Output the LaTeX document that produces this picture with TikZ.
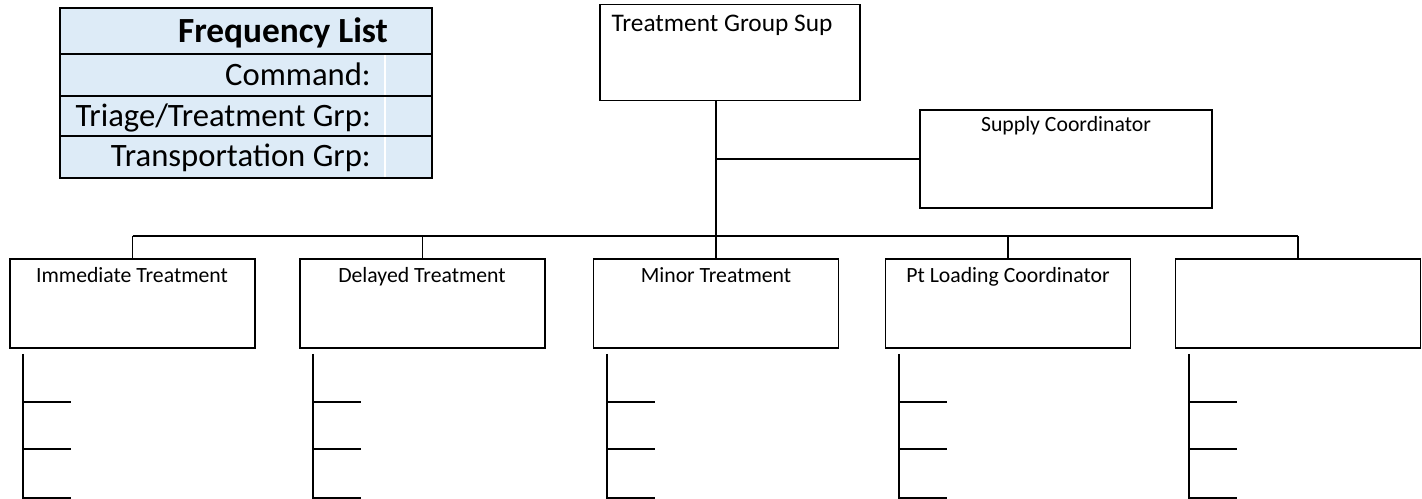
\documentclass[tikz,border=0pt]{standalone}
\usepackage{fontspec}
\setmainfont{Carlito}
\usetikzlibrary{calc}
\definecolor{tblue}{HTML}{DDEBF7}
\tikzset{
  box/.style={draw=black, line width=1.3pt, minimum width=183.75pt, minimum height=66.75pt, inner sep=0pt},
  topbox/.style={draw=black, line width=1.3pt, minimum width=195pt, minimum height=72pt, inner sep=0pt},
  supbox/.style={draw=black, line width=1.3pt, minimum width=219pt, minimum height=73.5pt, inner sep=0pt},
  lbl/.style={font=\fontsize{16.3}{18}\selectfont, inner sep=0pt, anchor=base},
  conn/.style={line width=1.3pt},
  tbl/.style={font=\fontsize{24.5}{27}\selectfont, inner sep=0pt, anchor=base east},
}
\begin{document}
\begin{tikzpicture}[x=0.75pt, y=-0.75pt]
\useasboundingbox (0,0) rectangle (1422,499);
% frequency table
\node[draw=black, line width=1.4pt, fill=tblue, minimum width=279pt, minimum height=127.5pt, inner sep=0pt] (ftab) at (246,93) {};
\draw[white, line width=1pt] (385,55) -- (385,177);
\draw[line width=1.2pt] (ftab.west |- 0,54) coordinate (r1a) -- (ftab.east |- 0,54) coordinate (r1b);
\draw[line width=1.2pt] (ftab.west |- 0,96) coordinate (r2a) -- (ftab.east |- 0,96) coordinate (r2b);
\draw[line width=1.2pt] (ftab.west |- 0,136) coordinate (r3a) -- (ftab.east |- 0,136) coordinate (r3b);
\node[font=\fontsize{26.5}{29}\selectfont\bfseries, inner sep=0pt, anchor=base] (ftitle) at (283,43) {Frequency List};
\node[tbl] (fcmd) at (371,86) {Command:};
\node[tbl] (ftri) at (371,127) {Triage/Treatment Grp:};
\node[tbl] (ftra) at (371,167) {Transportation Grp:};
% top box
\node[topbox] (sup) at (730,52.5) {};
\node[font=\fontsize{19}{21}\selectfont, inner sep=0pt, anchor=base] (supt) at (722,32) {Treatment Group Sup};
% supply coordinator
\node[supbox] (sc) at (1066,159) {};
\node[lbl] (sct) at (1066,132) {Supply Coordinator};
% bottom boxes
\node[box] (b1) at (132.5,303.5) {};
\node[box] (b2) at (422.5,303.5) {};
\node[box] (b3) at (716,303.5) {};
\node[box] (b4) at (1008,303.5) {};
\node[box] (b5) at (1298,303.5) {};
\node[lbl] (b1t) at (132,282) {Immediate Treatment};
\node[lbl] (b2t) at (422,282) {Delayed Treatment};
\node[lbl] (b3t) at (716,282) {Minor Treatment};
\node[lbl] (b4t) at (1008,282) {Pt Loading Coordinator};
% connectors
\coordinate (bus) at (716,236);
\coordinate (scj) at (716,159);
\draw[conn] (bus |- sup.south) -- (bus);
\draw[conn] (scj) -- (sc.west);
\draw[conn] (b1.north |- bus) -- (b5.north |- bus);
\foreach \b in {b1,b2,b3,b4,b5}{
  \draw[conn] (\b.north |- bus) -- (\b.north);
}
% sub lines
\foreach \b in {b1,b2,b3,b4,b5}{
  \coordinate (\b v) at ($(\b.south west)+(14,5)$);
  \coordinate (\b e) at ($(\b.south west)+(14,149)$);
  \draw[conn] (\b v) -- (\b e) -- ++(48,0);
  \draw[conn] ($(\b v)+(0,48)$) -- ++(48,0);
  \draw[conn] ($(\b v)+(0,95)$) -- ++(48,0);
}
\end{tikzpicture}
\end{document}
